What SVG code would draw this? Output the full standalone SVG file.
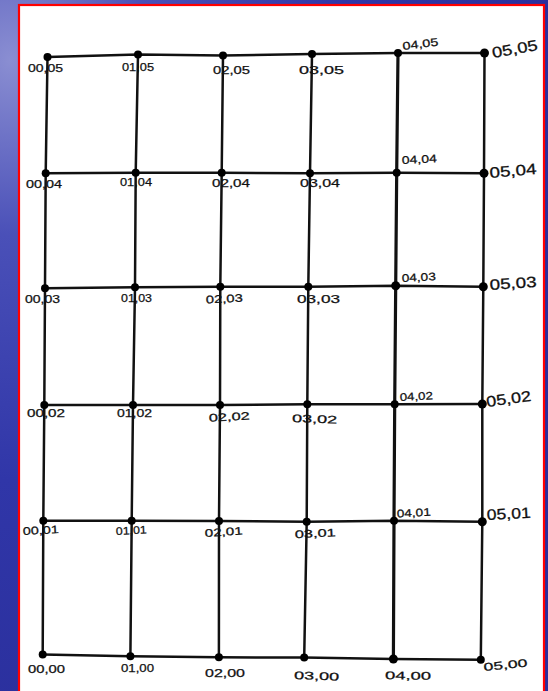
<svg xmlns="http://www.w3.org/2000/svg" width="548" height="691" viewBox="0 0 548 691">
<defs>
<radialGradient id="bg" cx="0" cy="0" r="1" gradientUnits="userSpaceOnUse" gradientTransform="translate(10,60) scale(560,700)">
<stop offset="0" stop-color="#8a8ed2"/>
<stop offset="0.25" stop-color="#4a50b8"/>
<stop offset="0.6" stop-color="#3036a8"/>
<stop offset="1" stop-color="#2a2f9c"/>
</radialGradient>
<style>
.ln{fill:none;stroke:#111;stroke-width:2.5;stroke-linejoin:round;stroke-linecap:round}
.thick{stroke-width:3.2}
.dot{fill:#000}
.lb{font-family:"Liberation Sans",Arial,sans-serif;font-size:11px;fill:#111;stroke:#111;stroke-width:0.25}
.lg{font-family:"Liberation Sans",Arial,sans-serif;font-size:15px;fill:#111;stroke:#111;stroke-width:0.3}
</style>
</defs>
<rect x="0" y="0" width="548" height="691" fill="url(#bg)"/>
<rect x="19" y="5" width="525" height="700" fill="#fff" stroke="#f00" stroke-width="2.2"/>
<g id="connectors">
<polyline class="ln" points="47.5,57 138,54.5 223,55.5 312,54 398,53 484.5,53"/>
<polyline class="ln" points="45.7,173.3 135.7,172.7 221.7,172.7 310,173.3 396.7,172.7 484,173.3"/>
<polyline class="ln" points="45,288.3 135,287.3 220.3,286.7 308.3,286.7 395.7,285.7 483.3,286.7"/>
<polyline class="ln" points="44.3,405 133,405 220,405 307.3,404.3 394.7,404.3 482.3,404"/>
<polyline class="ln" points="43.3,520.7 131.7,520.7 219,521 306.7,521.7 394,520.7 482.3,521.7"/>
<polyline class="ln" points="42.7,654.5 130.4,656.2 218.9,657.3 304.2,657.6 393.4,659 480.8,659.7"/>
<polyline class="ln" points="47.5,57 45.7,173.3 45,288.3 44.3,405 43.3,520.7 42.7,654.5"/>
<polyline class="ln" points="138,54.5 135.7,172.7 135,287.3 133,405 131.7,520.7 130.4,656.2"/>
<polyline class="ln" points="223,55.5 221.7,172.7 220.3,286.7 220,405 219,521 218.9,657.3"/>
<polyline class="ln" points="312,54 310,173.3 308.3,286.7 307.3,404.3 306.7,521.7 304.2,657.6"/>
<polyline class="ln thick" points="398,53 396.7,172.7 395.7,285.7 394.7,404.3 394,520.7 393.4,659"/>
<polyline class="ln" points="484.5,53 484,173.3 483.3,286.7 482.3,404 482.3,521.7 480.8,659.7"/>
</g>
<g id="n00_05"><circle class="dot" cx="47.5" cy="57" r="4"/><text class="lb" x="28" y="71.5" textLength="35" lengthAdjust="spacingAndGlyphs">00,05</text></g>
<g id="n01_05"><circle class="dot" cx="138" cy="54.5" r="4"/><text class="lb" x="122" y="71" textLength="32" lengthAdjust="spacingAndGlyphs">01,05</text></g>
<g id="n02_05"><circle class="dot" cx="223" cy="55.5" r="4"/><text class="lb" x="213" y="73.5" font-size="12" textLength="37" lengthAdjust="spacingAndGlyphs">02,05</text></g>
<g id="n03_05"><circle class="dot" cx="312" cy="54" r="4"/><text class="lb" x="299" y="74" font-size="13" textLength="45" lengthAdjust="spacingAndGlyphs">03,05</text></g>
<g id="n04_05"><circle class="dot" cx="398" cy="53" r="4"/><text class="lb" x="403" y="50" font-size="12" textLength="36" lengthAdjust="spacingAndGlyphs" transform="rotate(-7 403 50)">04,05</text></g>
<g id="n05_05"><circle class="dot" cx="484.5" cy="53" r="4.5"/><text class="lg" x="493" y="58" textLength="46" lengthAdjust="spacingAndGlyphs" transform="rotate(-10 493 58)">05,05</text></g>

<g id="n00_04"><circle class="dot" cx="45.7" cy="173.3" r="4"/><text class="lb" x="26" y="187.5" textLength="36" lengthAdjust="spacingAndGlyphs">00,04</text></g>
<g id="n01_04"><circle class="dot" cx="135.7" cy="172.7" r="4"/><text class="lb" x="120" y="186" textLength="32" lengthAdjust="spacingAndGlyphs">01,04</text></g>
<g id="n02_04"><circle class="dot" cx="221.7" cy="172.7" r="4"/><text class="lb" x="212" y="187.3" font-size="12" textLength="38" lengthAdjust="spacingAndGlyphs">02,04</text></g>
<g id="n03_04"><circle class="dot" cx="310" cy="173.3" r="4"/><text class="lb" x="300" y="187.3" font-size="12" textLength="40" lengthAdjust="spacingAndGlyphs">03,04</text></g>
<g id="n04_04"><circle class="dot" cx="396.7" cy="172.7" r="4"/><text class="lb" x="402" y="164" font-size="12" textLength="35" lengthAdjust="spacingAndGlyphs" transform="rotate(-3 402 164)">04,04</text></g>
<g id="n05_04"><circle class="dot" cx="484" cy="173.3" r="4.5"/><text class="lg" x="490" y="178" textLength="47" lengthAdjust="spacingAndGlyphs" transform="rotate(-5 490 178)">05,04</text></g>

<g id="n00_03"><circle class="dot" cx="45" cy="288.3" r="4"/><text class="lb" x="25" y="302.7" textLength="35" lengthAdjust="spacingAndGlyphs">00,03</text></g>
<g id="n01_03"><circle class="dot" cx="135" cy="287.3" r="4"/><text class="lb" x="121" y="301.7" textLength="31" lengthAdjust="spacingAndGlyphs">01,03</text></g>
<g id="n02_03"><circle class="dot" cx="220.3" cy="286.7" r="4"/><text class="lb" x="206" y="303.5" font-size="12" textLength="37" lengthAdjust="spacingAndGlyphs" transform="rotate(-3 206 303.5)">02,03</text></g>
<g id="n03_03"><circle class="dot" cx="308.3" cy="286.7" r="4"/><text class="lb" x="297" y="302.7" font-size="12" textLength="43" lengthAdjust="spacingAndGlyphs">03,03</text></g>
<g id="n04_03"><circle class="dot" cx="395.7" cy="285.7" r="4.5"/><text class="lb" x="402" y="282" font-size="12" textLength="34" lengthAdjust="spacingAndGlyphs" transform="rotate(-3 402 282)">04,03</text></g>
<g id="n05_03"><circle class="dot" cx="483.3" cy="286.7" r="4.5"/><text class="lg" x="490" y="290" textLength="47" lengthAdjust="spacingAndGlyphs" transform="rotate(-4 490 290)">05,03</text></g>

<g id="n00_02"><circle class="dot" cx="44.3" cy="405" r="4"/><text class="lb" x="27" y="416.7" textLength="38" lengthAdjust="spacingAndGlyphs">00,02</text></g>
<g id="n01_02"><circle class="dot" cx="133" cy="405" r="4"/><text class="lb" x="117" y="416.7" textLength="35" lengthAdjust="spacingAndGlyphs">01,02</text></g>
<g id="n02_02"><circle class="dot" cx="220" cy="405" r="4"/><text class="lb" x="209" y="421.7" font-size="12" textLength="41" lengthAdjust="spacingAndGlyphs" transform="rotate(-3 209 421.7)">02,02</text></g>
<g id="n03_02"><circle class="dot" cx="307.3" cy="404.3" r="4"/><text class="lb" x="292" y="422" font-size="12" textLength="45" lengthAdjust="spacingAndGlyphs" transform="rotate(2 292 422)">03,02</text></g>
<g id="n04_02"><circle class="dot" cx="394.7" cy="404.3" r="4"/><text class="lb" x="400" y="401" font-size="12" textLength="33" lengthAdjust="spacingAndGlyphs" transform="rotate(-3 400 401)">04,02</text></g>
<g id="n05_02"><circle class="dot" cx="482.3" cy="404" r="4.5"/><text class="lg" x="487" y="407" font-size="14" textLength="45" lengthAdjust="spacingAndGlyphs" transform="rotate(-8 487 407)">05,02</text></g>

<g id="n00_01"><circle class="dot" cx="43.3" cy="520.7" r="4"/><text class="lb" x="23" y="535" textLength="36" lengthAdjust="spacingAndGlyphs" transform="rotate(-3 23 535)">00,01</text></g>
<g id="n01_01"><circle class="dot" cx="131.7" cy="520.7" r="4"/><text class="lb" x="116" y="535" textLength="31" lengthAdjust="spacingAndGlyphs" transform="rotate(-3 116 535)">01,01</text></g>
<g id="n02_01"><circle class="dot" cx="219" cy="521" r="4"/><text class="lb" x="205" y="537" font-size="12" textLength="38" lengthAdjust="spacingAndGlyphs" transform="rotate(-4 205 537)">02,01</text></g>
<g id="n03_01"><circle class="dot" cx="306.7" cy="521.7" r="4"/><text class="lb" x="295" y="538.3" font-size="12" textLength="41" lengthAdjust="spacingAndGlyphs" transform="rotate(-3 295 538.3)">03,01</text></g>
<g id="n04_01"><circle class="dot" cx="394" cy="520.7" r="4"/><text class="lb" x="397" y="517.5" font-size="12" textLength="34" lengthAdjust="spacingAndGlyphs" transform="rotate(-3 397 517.5)">04,01</text></g>
<g id="n05_01"><circle class="dot" cx="482.3" cy="521.7" r="4.5"/><text class="lg" x="487" y="520" font-size="14" textLength="44" lengthAdjust="spacingAndGlyphs" transform="rotate(-3 487 520)">05,01</text></g>

<g id="n00_00"><circle class="dot" cx="42.7" cy="654.5" r="4"/><text class="lb" x="28" y="672.5" textLength="37" lengthAdjust="spacingAndGlyphs">00,00</text></g>
<g id="n01_00"><circle class="dot" cx="130.4" cy="656.2" r="4"/><text class="lb" x="121" y="671.5" textLength="33" lengthAdjust="spacingAndGlyphs">01,00</text></g>
<g id="n02_00"><circle class="dot" cx="218.9" cy="657.3" r="4"/><text class="lb" x="205" y="677" font-size="12" textLength="40" lengthAdjust="spacingAndGlyphs">02,00</text></g>
<g id="n03_00"><circle class="dot" cx="304.2" cy="657.6" r="4"/><text class="lb" x="294" y="679" font-size="13" textLength="45" lengthAdjust="spacingAndGlyphs" transform="rotate(2 294 679)">03,00</text></g>
<g id="n04_00"><circle class="dot" cx="393.4" cy="659" r="4.5"/><text class="lb" x="385" y="679" font-size="13" textLength="46" lengthAdjust="spacingAndGlyphs" transform="rotate(1 385 679)">04,00</text></g>
<g id="n05_00"><circle class="dot" cx="480.8" cy="659.7" r="4"/><text class="lb" x="484" y="671" font-size="13" textLength="44" lengthAdjust="spacingAndGlyphs" transform="rotate(-6 484 671)">05,00</text></g>
</svg>
